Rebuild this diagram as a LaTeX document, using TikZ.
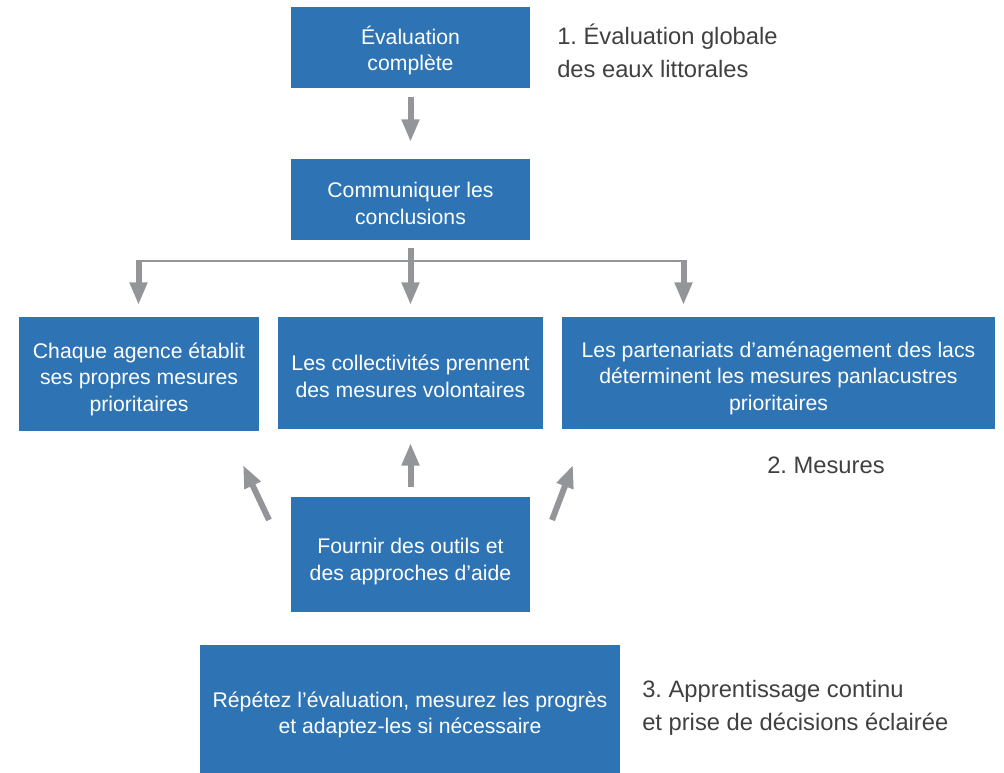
\documentclass[tikz,border=0pt]{standalone}
\usepackage{fontspec}
\setmainfont{Liberation Sans}
\usetikzlibrary{arrows.meta}
\definecolor{boxblue}{RGB}{46,116,181}
\definecolor{arrgray}{RGB}{147,149,152}
\definecolor{labgray}{RGB}{64,64,64}
\frenchspacing
\begin{document}
\begin{tikzpicture}[x=0.75pt,y=-0.75pt,
  bluebox/.style={fill=boxblue,draw=none,inner sep=0pt},
  boxtext/.style={text=white,align=center,inner sep=0pt,font=\fontsize{15.9}{19.9}\selectfont},
  arr/.style={draw=arrgray,line width=4.5pt,-{Triangle[width=12.5pt,length=17pt]}},
  thinline/.style={draw=arrgray,line width=1.6pt},
  lab/.style={text=labgray,align=left,anchor=west,inner sep=0pt,font=\fontsize{17.8}{24.75}\selectfont}]
\useasboundingbox (0,0) rectangle (1004,773);
\node[bluebox,minimum width=179.25pt,minimum height=60.75pt] (eval) at (410.5,47.5) {};
\node[bluebox,minimum width=179.25pt,minimum height=60.75pt] (comm) at (410.5,199.5) {};
\node[bluebox,minimum width=180pt,minimum height=85.5pt] (chaque) at (139,374) {};
\node[bluebox,minimum width=198.75pt,minimum height=84pt] (coll) at (410.5,373) {};
\node[bluebox,minimum width=324.75pt,minimum height=84pt] (part) at (778.5,373) {};
\node[bluebox,minimum width=179.25pt,minimum height=86.25pt] (fourn) at (410.5,554.5) {};
\node[bluebox,minimum width=315pt,minimum height=96pt] (rep) at (410,709) {};
\node[boxtext] (evalt) at ([yshift=-2.4pt]eval.center) {Évaluation\\complète};
\node[boxtext] (commt) at ([yshift=-3pt]comm.center) {Communiquer les\\conclusions};
\node[boxtext] (chaquet) at ([yshift=-4pt]chaque.center) {Chaque agence établit\\ses propres mesures\\prioritaires};
\node[boxtext] (collt) at ([yshift=-2.6pt]coll.center) {Les collectivités prennent\\des mesures volontaires};
\node[boxtext] (partt) at ([yshift=-4pt]part.center) {Les partenariats d’aménagement des lacs\\déterminent les mesures panlacustres\\prioritaires};
\node[boxtext] (fournt) at ([yshift=-5.2pt]fourn.center) {Fournir des outils et\\des approches d’aide};
\node[boxtext] (rept) at ([yshift=-4.5pt]rep.center) {Répétez l’évaluation, mesurez les progrès\\et adaptez-les si nécessaire};
\node[lab] (l1) at (557,51) {1. Évaluation globale\\des eaux littorales};
\node[lab] (l2) at (767,465) {2. Mesures};
\node[lab] (l3) at (642,708) {3. Apprentissage continu\\et prise de décisions éclairée};
% arrows
\coordinate (a1s) at (410.5,97);
\coordinate (a1e) at (410.5,142);
\draw[arr] (a1s) -- (a1e);
\coordinate (bl) at (138.5,261);
\coordinate (br) at (683.5,261);
\coordinate (bc) at (410.5,248);
\coordinate (bce) at (410.5,305);
\coordinate (ble) at (138.5,305);
\coordinate (bre) at (683.5,305);
\draw[thinline] (bl) -- (br);
\draw[arr] (bc) -- (bce);
\draw[arr] ([yshift=0.8pt]bl) -- (ble);
\draw[arr] ([yshift=0.8pt]br) -- (bre);
\coordinate (uc) at (410.5,487);
\coordinate (uce) at (410.5,443);
\coordinate (ul) at (269,520);
\coordinate (ule) at (243,465);
\coordinate (ur) at (552,520);
\coordinate (ure) at (573,465);
\draw[arr] (uc) -- (uce);
\draw[arr] (ul) -- (ule);
\draw[arr] (ur) -- (ure);
\end{tikzpicture}
\end{document}
